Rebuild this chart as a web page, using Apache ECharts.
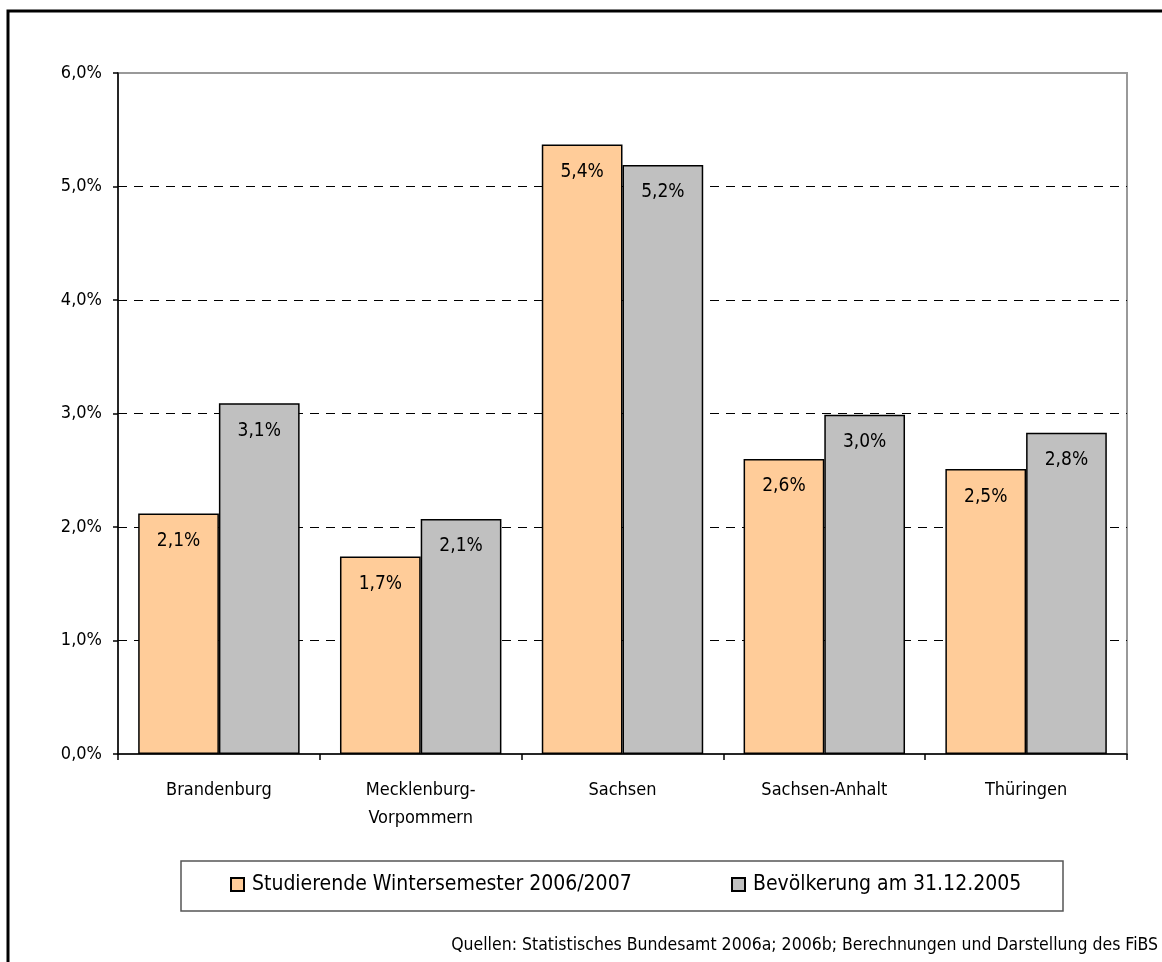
<!DOCTYPE html>
<html>
<head>
<meta charset="utf-8">
<script src="https://cdn.jsdelivr.net/npm/echarts@6/dist/echarts.min.js"></script>
<style>
html,body{margin:0;padding:0;background:#fff;}
#chart{width:1162px;height:962px;}
</style>
</head>
<body>
<div id="chart"></div>
<script>
var categories = ['Brandenburg', 'Mecklenburg-\nVorpommern', 'Sachsen', 'Sachsen-Anhalt', 'Thüringen'];
var seriesNames = ['Studierende Wintersemester 2006/2007', 'Bevölkerung am 31.12.2005'];
var studierende = [2.12, 1.74, 5.37, 2.60, 2.51];
var bevoelkerung = [3.09, 2.07, 5.19, 2.99, 2.83];
var yTicks = [0, 1, 2, 3, 4, 5, 6];
var sourceText = 'Quellen: Statistisches Bundesamt 2006a; 2006b; Berechnungen und Darstellung des FiBS';

var FONT = '"DejaVu Sans Condensed", "Liberation Sans", Arial, sans-serif';
function pct(v) { return v.toFixed(1).replace('.', ',') + '%'; }

var chart = echarts.init(document.getElementById('chart'));
var barLabel = {
  show: true, position: 'insideTop', distance: 18,
  fontFamily: FONT, fontSize: 19, color: '#000',
  formatter: function (p) { return pct(p.value); }
};
chart.setOption({
  backgroundColor: '#fff',
  animation: false,
  textStyle: { fontFamily: FONT },
  grid: { left: 118, right: 35, top: 73, bottom: 208, show: true, borderColor: '#999', borderWidth: 2, backgroundColor: 'transparent' },
  legend: [
    { data: [seriesNames[0]], left: 230, top: 874, padding: 0, itemWidth: 13, itemHeight: 13, icon: 'rect',
      textStyle: { fontFamily: FONT, fontSize: 21, color: '#000', padding: [0, 0, 0, 3] } },
    { data: [seriesNames[1]], left: 731, top: 874, padding: 0, itemWidth: 13, itemHeight: 13, icon: 'rect',
      textStyle: { fontFamily: FONT, fontSize: 21, color: '#000', padding: [0, 0, 0, 3] } }
  ],
  graphic: [
    { type: 'rect', shape: { x: 181, y: 861, width: 882, height: 50 }, style: { fill: 'none', stroke: '#555', lineWidth: 1.5 }, z: 0 },
    { type: 'rect', shape: { x: 8, y: 11, width: 1300, height: 1100 }, style: { fill: 'none', stroke: '#000', lineWidth: 3 }, z: 0 },
    { type: 'text', right: 4, top: 936, style: { text: sourceText, font: '17.5px ' + FONT, fill: '#000' } }
  ],
  xAxis: {
    type: 'category', data: categories,
    axisLine: { lineStyle: { color: '#000', width: 1.5 } },
    axisTick: { show: true, length: 6, lineStyle: { color: '#000', width: 1.5 } },
    axisLabel: { color: '#000', fontSize: 18, lineHeight: 28, margin: 22, fontFamily: FONT, interval: 0 }
  },
  yAxis: {
    type: 'value', min: yTicks[0], max: yTicks[yTicks.length - 1], interval: 1,
    axisLine: { show: true, lineStyle: { color: '#000', width: 1.5 } },
    axisTick: { show: true, length: 5, lineStyle: { color: '#000', width: 1.5 } },
    axisLabel: { color: '#000', fontSize: 18, margin: 16, padding: [6, 0, 0, 0], fontFamily: FONT, formatter: function (v) { return pct(v); } },
    splitLine: { show: true, lineStyle: { color: ['rgba(0,0,0,0)', '#000', '#000', '#000', '#000', '#000', 'rgba(0,0,0,0)'], type: [9, 7], width: 1 } }
  },
  series: [
    { name: seriesNames[0], type: 'bar', data: studierende, barGap: '0%', barCategoryGap: '20%',
      itemStyle: { color: '#FFCC99', borderColor: '#000', borderWidth: 1.5 }, label: barLabel },
    { name: seriesNames[1], type: 'bar', data: bevoelkerung, barGap: '0%', barCategoryGap: '20%',
      itemStyle: { color: '#C0C0C0', borderColor: '#000', borderWidth: 1.5 }, label: barLabel }
  ]
});
</script>
</body>
</html>
